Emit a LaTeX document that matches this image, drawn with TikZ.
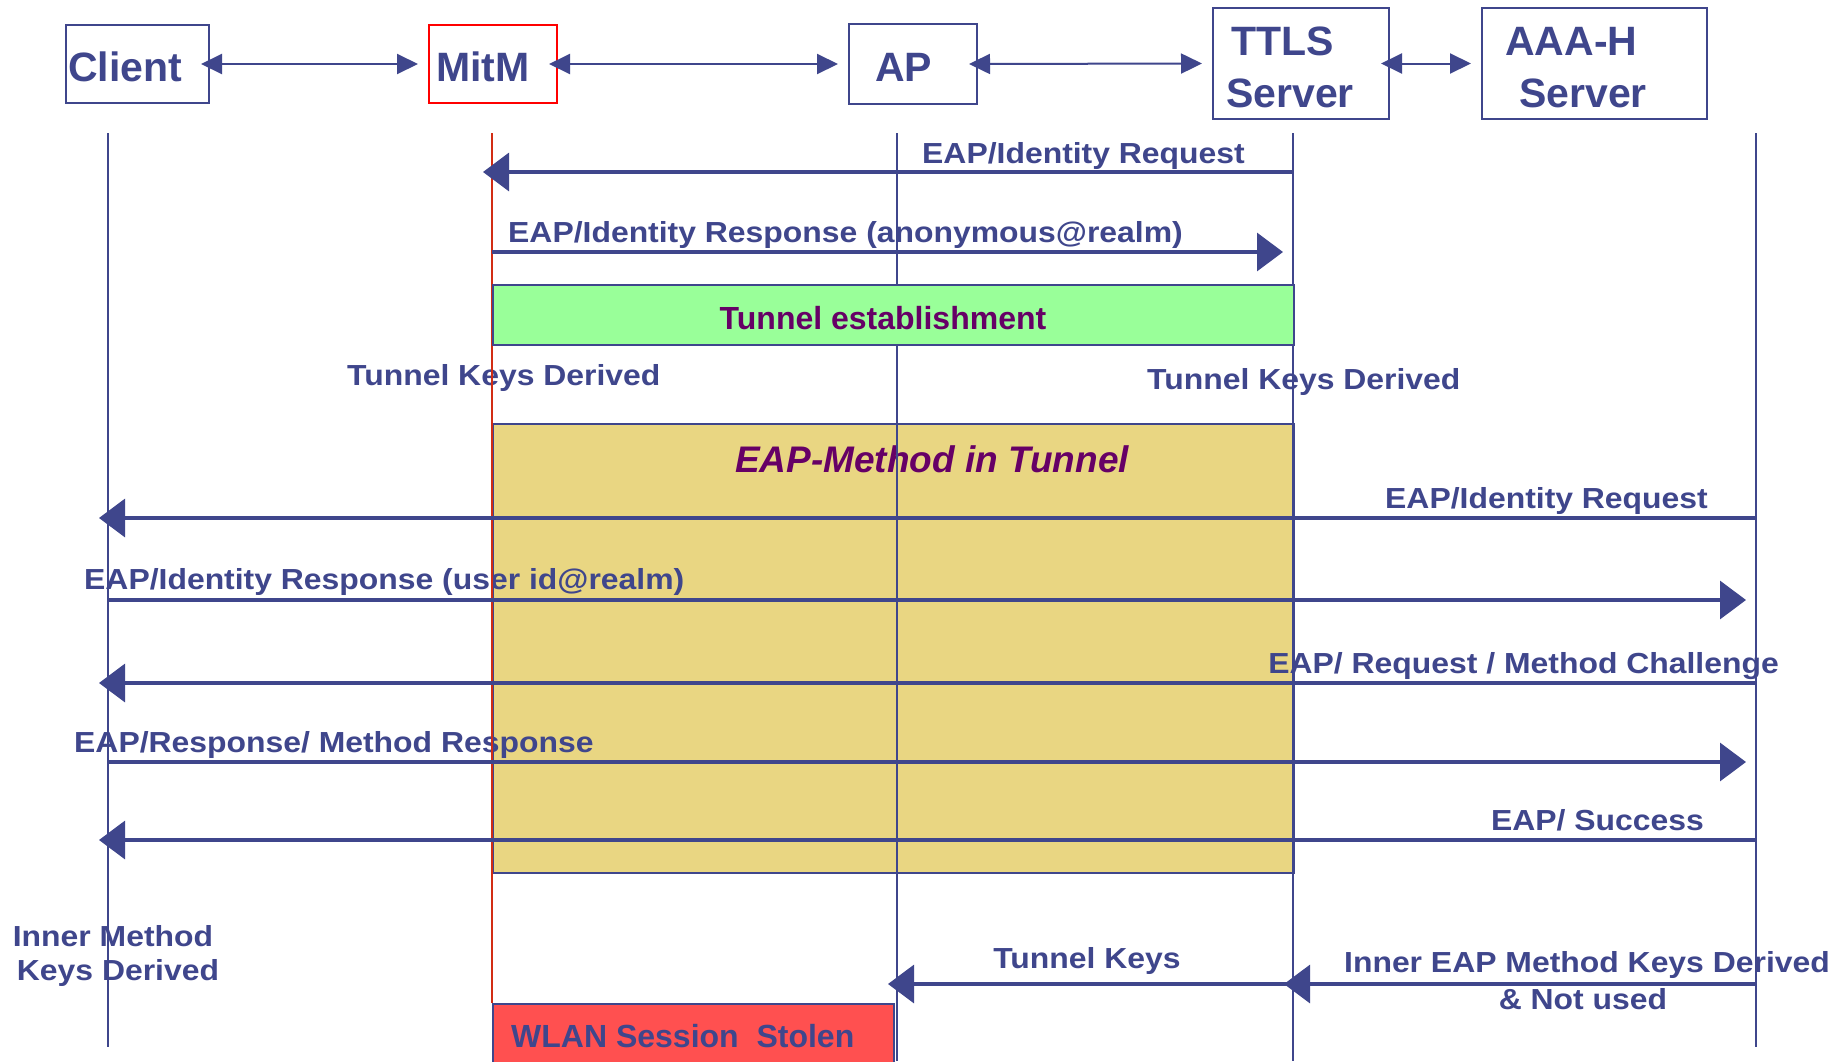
\documentclass[tikz,border=0pt]{standalone}
\usepackage{fontspec}
\setmainfont{Liberation Sans}
\newfontfamily\widesans{Liberation Sans}[FakeStretch=1.1]
\usetikzlibrary{arrows.meta}
\definecolor{navy}{RGB}{63,70,140}
\definecolor{plum}{RGB}{102,0,102}
\definecolor{mintfill}{RGB}{153,255,153}
\definecolor{sandfill}{RGB}{233,214,130}
\definecolor{alertfill}{RGB}{255,80,80}
\definecolor{mitmred}{RGB}{255,0,0}
\definecolor{mitmline}{RGB}{210,45,20}
\begin{document}
\begin{tikzpicture}[x=1pt,y=-1pt,
  hbox/.style={draw=navy, line width=2, fill=white, inner sep=0, anchor=north west},
  htext/.style={font=\fontsize{41}{49}\selectfont\bfseries, text=navy, inner sep=0, anchor=base west},
  lab/.style={font=\widesans\bfseries\fontsize{29}{35}\selectfont, text=navy, inner sep=0},
  phase/.style={draw=navy, line width=2, inner sep=0, anchor=north west},
  life/.style={draw=navy, line width=2},
  link/.style={draw=navy, line width=2, {Triangle[length=21pt,width=20pt]}-{Triangle[length=21pt,width=20pt]}},
  msg/.style={draw=navy, line width=3.2, -{Triangle[length=26pt,width=38pt]}},
  msgL/.style={msg, shorten >=-9pt},
  msgR/.style={msg, shorten >=10pt},
]
\useasboundingbox (0,0) rectangle (1847,1061);
\fill[white] (0,0) rectangle (1847,1061);

% lifeline end points
\coordinate (cliTop) at (108,133);   \coordinate (cliBot) at (108,1047);
\coordinate (mitmTop) at (492,133);  \coordinate (mitmBot) at (492,1003);
\coordinate (apTop) at (897,133);    \coordinate (apBot) at (897,1061);
\coordinate (ttlsTop) at (1293,133); \coordinate (ttlsBot) at (1293,1061);
\coordinate (aaaTop) at (1756,133);  \coordinate (aaaBot) at (1756,1047);

% message rows
\coordinate (y1) at (0,172);
\coordinate (y2) at (0,252);
\coordinate (y3) at (0,518);
\coordinate (y4) at (0,600);
\coordinate (y5) at (0,683);
\coordinate (y6) at (0,762);
\coordinate (y7) at (0,840);
\coordinate (y8) at (0,984);

% inner method phase
\node[phase, fill=sandfill, minimum width=801, minimum height=449] (methodbox) at (492,423) {};
\node[font=\fontsize{37}{44}\selectfont\bfseries\itshape, text=plum, inner sep=0, anchor=base] (methodT) at (932,472) {EAP-Method in Tunnel};

% message and state labels
\node[lab, anchor=base west] (t1) at (922,163) {EAP/Identity Request};
\node[lab, anchor=base west] (t2) at (508,242) {EAP/Identity Response (anonymous@realm)};
\node[lab, anchor=base west] (tkd1) at (347,385) {Tunnel Keys Derived};
\node[lab, anchor=base west] (tkd2) at (1147,389) {Tunnel Keys Derived};
\node[lab, anchor=base east] (t3) at (1708,508) {EAP/Identity Request};
\node[lab, anchor=base west] (t4) at (84,589) {EAP/Identity Response (user id@realm)};
\node[lab, anchor=base east] (t5) at (1779,673) {EAP/ Request / Method Challenge};
\node[lab, anchor=base west] (t6) at (74,752) {EAP/Response/ Method Response};
\node[lab, anchor=base east] (t7) at (1704,830) {EAP/ Success};
\node[lab, anchor=base] (imk1) at (113,946) {Inner Method};
\node[lab, anchor=base] (imk2) at (118,980) {Keys Derived};
\node[lab, anchor=base] (tk) at (1087,968) {Tunnel Keys};
\node[lab, anchor=base] (iek1) at (1587,972) {Inner EAP Method Keys Derived};
\node[lab, anchor=base] (iek2) at (1583,1009) {\& Not used};

% lifelines
\draw[life] (cliTop) -- (cliBot);
\draw[life, draw=mitmline] (mitmTop) -- (mitmBot);
\draw[life] (apTop) -- (apBot);
\draw[life] (ttlsTop) -- (ttlsBot);
\draw[life] (aaaTop) -- (aaaBot);

% tunnel establishment
\node[phase, fill=mintfill, minimum width=801, minimum height=60] (tunnelbox) at (492,284) {};
\node[font=\fontsize{32}{38}\selectfont\bfseries, text=plum, inner sep=0, anchor=base] (tunnelT) at (883,329) {Tunnel establishment};

% stolen session
\node[phase, fill=alertfill, minimum width=401, minimum height=75] (stolen) at (492,1003) {};
\node[font=\fontsize{32}{38}\selectfont\bfseries, text=navy, inner sep=0, anchor=base west] (stolenT) at (511,1047) {WLAN Session\ \ Stolen};

% entities
\node[hbox, minimum width=143, minimum height=78] (client) at (65,24) {};
\node[hbox, draw=mitmred, minimum width=128, minimum height=78] (mitm) at (428,24) {};
\node[hbox, minimum width=128, minimum height=80] (ap) at (848,23) {};
\node[hbox, minimum width=176, minimum height=111] (ttls) at (1212,7) {};
\node[hbox, minimum width=225, minimum height=111] (aaa) at (1481,7) {};
\node[htext] (clientT) at (68,81) {Client};
\node[htext] (mitmT) at (436,81) {MitM};
\node[htext] (apT) at (875,81) {AP};
\node[htext] (ttlsT1) at (1231,55) {TTLS};
\node[htext] (ttlsT2) at (1226,107) {Server};
\node[htext] (aaaT1) at (1505,55) {AAA-H};
\node[htext] (aaaT2) at (1519,107) {Server};

\draw[link] ([xshift=-9pt]client.east) -- ([xshift=-10pt]mitm.west);
\draw[link] ([xshift=-9pt]mitm.east) -- ([xshift=-10pt]ap.west);
\draw[link] ([xshift=-9pt]ap.east) -- ([xshift=-10pt]ttls.west);
\draw[link] ([xshift=-9pt]ttls.east) -- ([xshift=-10pt]aaa.west);

% messages
\draw[msgL] (ttlsTop |- y1) -- (mitmTop |- y1);
\draw[msgR] (mitmTop |- y2) -- (ttlsTop |- y2);
\draw[msgL] (aaaTop |- y3) -- (cliTop |- y3);
\draw[msgR] (cliTop |- y4) -- (aaaTop |- y4);
\draw[msgL] (aaaTop |- y5) -- (cliTop |- y5);
\draw[msgR] (cliTop |- y6) -- (aaaTop |- y6);
\draw[msgL] (aaaTop |- y7) -- (cliTop |- y7);
\draw[msgL] (ttlsTop |- y8) -- (apTop |- y8);
\draw[msgL] (aaaTop |- y8) -- (ttlsTop |- y8);
\end{tikzpicture}
\end{document}
